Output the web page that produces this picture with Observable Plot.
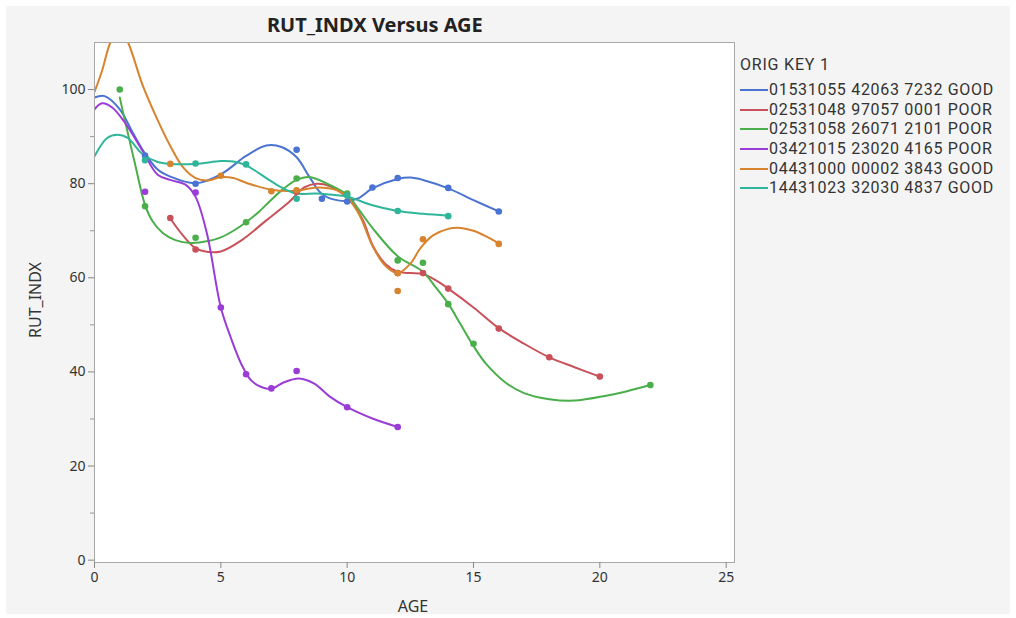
<!DOCTYPE html>
<html>
<head>
<meta charset="utf-8">
<script src="https://cdn.jsdelivr.net/npm/d3@7"></script>
<script src="https://cdn.jsdelivr.net/npm/@observablehq/plot@0.6"></script>
<style>
  html, body { margin: 0; padding: 0; background: #ffffff; }
  #wrap { position: relative; width: 1016px; height: 618px; font-family: "Noto Sans", "Open Sans", sans-serif; color: #333; }
  #bg { position: absolute; left: 6px; top: 6px; width: 1004px; height: 608px; background: #f4f4f4; }
  #chart { position: absolute; left: 0; top: 0; }
  .abs { position: absolute; white-space: nowrap; line-height: 1; }
  #title { left: 267px; top: 15px; font-weight: bold; font-size: 20px; color: #222; }
  #xlab { left: 413px; top: 598px; transform: translateX(-50%); font-size: 16px; color: #333; }
  #ylab { left: 35px; top: 300px; transform: translate(-50%, -50%) rotate(-90deg); font-size: 16px; color: #333; }
  #legend { left: 740px; top: 55px; font-family: Roboto, "Liberation Sans", sans-serif; font-size: 16px; color: #333; }
  #legend .head { display: block; height: 19px; line-height: 19px; margin-bottom: 6px; letter-spacing: 0.8px; }
  #legend .row { display: flex; align-items: center; height: 19.7px; }
  #legend .sw { width: 28px; height: 2px; margin-right: 1px; flex: none; }
  #legend .lt { display: block; height: 19.7px; line-height: 19.7px; letter-spacing: 0.7px; }
</style>
</head>
<body>
<div id="wrap">
  <div id="bg"></div>
  <div id="chart"></div>
  <div id="title" class="abs">RUT_INDX Versus AGE</div>
  <div id="xlab" class="abs">AGE</div>
  <div id="ylab" class="abs">RUT_INDX</div>
  <div id="legend" class="abs"></div>
</div>
<script>
// ---- Data ----
const seriesKeys = [
  "01531055 42063 7232 GOOD",
  "02531048 97057 0001 POOR",
  "02531058 26071 2101 POOR",
  "03421015 23020 4165 POOR",
  "04431000 00002 3843 GOOD",
  "14431023 32030 4837 GOOD"
];
const seriesColors = ["#4a73d2", "#c9525a", "#4aae4a", "#9a3cd6", "#d8832e", "#2fb59a"];
const legendTitle = "ORIG KEY 1";

// observed points [AGE, RUT_INDX]
const pts1 = [[2,86],[4,80],[8,87.2],[9,76.8],[10,76.2],[11,79.2],[12,81.2],[14,79.1],[16,74.1]];
const pts2 = [[3,72.7],[4,66],[8,78.3],[12,61],[13,61],[14,57.7],[16,49.2],[18,43.1],[20,39]];
const pts3 = [[1,100],[2,75.2],[4,68.5],[6,71.8],[8,81.1],[10,77.9],[12,63.7],[13,63.2],[14,54.4],[15,46],[22,37.2]];
const pts4 = [[2,78.3],[4,78.1],[5,53.7],[6,39.5],[7,36.5],[8,40.2],[10,32.5],[12,28.3]];
const pts5 = [[3,84.2],[5,81.7],[7,78.4],[8,78.6],[12,61],[12,57.2],[13,68.2],[16,67.2]];
const pts6 = [[2,85],[4,84.3],[6,84.1],[8,76.8],[10,77.5],[12,74.2],[14,73.1]];

// smoother curves [AGE, RUT_INDX]
const fit1 = [[0,98.3],[0.4,98.6],[1,95.8],[1.5,91],[2,86.4],[2.5,83],[3,81.5],[4,80.1],[5,82],[6,85.9],[6.8,88.1],[7.4,87.8],[8,85.6],[8.5,81.5],[9,77.8],[9.7,76.4],[10.4,76.8],[11,79],[12,81],[12.5,81.3],[13,80.8],[14,79],[15,76.5],[16,74.1]];
const fit2 = [[3,72.6],[3.5,69],[4,66.3],[4.5,65.5],[5,65.6],[5.8,67.9],[6.8,72.2],[7.7,76.1],[8.3,79.2],[8.8,80],[9.3,79.5],[10,77],[10.6,72.5],[11,67],[11.5,63],[12,61.3],[12.5,61],[13,60.8],[13.5,59.5],[14,57.7],[15,53.7],[16,49.3],[17,46],[18,43.1],[19,41],[20,39]];
const fit3 = [[1,98.3],[1.2,93.5],[1.6,84.3],[2,75.5],[2.3,72],[2.7,69.5],[3.2,68],[3.8,67.4],[4.5,67.8],[5,68.6],[5.5,70],[6,71.8],[6.5,74],[7,76.6],[7.5,79],[8,80.8],[8.5,81.4],[9.2,80],[10,77.6],[10.5,74.2],[11,70.6],[12,64.6],[13,61.3],[13.5,58],[14,54.5],[14.5,50],[15,45.5],[15.5,41.7],[16.3,37.6],[17,35.5],[18,34.2],[19,33.9],[20.3,35],[21,35.8],[22,37.2]];
const fit4 = [[0,95.8],[0.3,97.1],[0.7,96.2],[1.2,93],[1.9,87],[2.5,81.9],[3,80.8],[3.6,79.8],[4,77.2],[4.45,69.4],[5,53.7],[5.4,47.2],[5.8,41.8],[6.2,38.2],[6.6,36.8],[7,36.4],[7.5,37.8],[8.1,38.6],[8.7,37.5],[9.3,34.8],[10,32.5],[11,30.1],[12,28.3]];
const fit5 = [[0,99.5],[0.3,104],[0.63,110],[1,113],[1.33,110],[1.9,101],[2.5,93.5],[3,88],[3.5,83.5],[4,81.2],[4.5,80.7],[5,81.4],[5.5,81.2],[6,80.2],[7,78.7],[8,78.5],[8.8,79.2],[9.6,78.6],[10,77.2],[10.5,73.2],[11,66.8],[11.5,62.6],[12,61],[12.5,63],[12.9,66.3],[13.4,69],[14,70.4],[14.5,70.6],[15,70],[15.5,68.8],[16,67.3]];
const fit6 = [[0,85.8],[0.5,89.7],[0.9,90.4],[1.3,89.8],[1.9,86.3],[2.5,84.6],[3,84.2],[4,84.2],[5,84.8],[5.5,84.7],[6,83.9],[6.8,81.2],[7.4,79.2],[8,77.9],[8.8,77.9],[9.7,77.5],[10,77.3],[11,75.4],[12,74.2],[13,73.6],[14,73.2]];

const xTicks = [0, 5, 10, 15, 20, 25];
const yTicks = [0, 20, 40, 60, 80, 100];
const yMinorTicks = [10, 30, 50, 70, 90];

// ---- build tables ----
const ptsAll = [pts1, pts2, pts3, pts4, pts5, pts6];
const fitAll = [fit1, fit2, fit3, fit4, fit5, fit6];
const pointRows = ptsAll.flatMap((arr, i) => arr.map(([a, r]) => ({key: seriesKeys[i], age: a, rut: r})));
const fitRows = fitAll.flatMap((arr, i) => arr.map(([a, r]) => ({key: seriesKeys[i], age: a, rut: r})));

const chart = Plot.plot({
  width: 1016,
  height: 618,
  marginLeft: 94,
  marginRight: 282,
  marginTop: 42,
  marginBottom: 56,
  style: {background: "transparent", fontFamily: "Noto Sans, Open Sans, sans-serif", fontSize: "14px", color: "#333"},
  x: {domain: [0, 25.33], label: null},
  y: {domain: [-0.5, 110], label: null},
  color: {domain: seriesKeys, range: seriesColors},
  marks: [
    Plot.frame({fill: "white", stroke: "none"}),
    Plot.line(fitRows, {x: "age", y: "rut", z: "key", stroke: "key", curve: "catmull-rom", strokeWidth: 2, clip: true}),
    Plot.dot(pointRows, {x: "age", y: "rut", fill: "key", r: 3.3, clip: true}),
    Plot.frame({stroke: "#a8a8a8", strokeWidth: 1}),
    Plot.axisX({ticks: xTicks, tickSize: 6, tickPadding: 4, stroke: "#888", fill: "#333", label: null}),
    Plot.axisY({ticks: yTicks, tickSize: 6, tickPadding: 3, stroke: "#888", fill: "#333", label: null}),
    Plot.axisY({ticks: yMinorTicks, tickSize: 4, text: null, stroke: "#999", label: null})
  ]
});
document.getElementById("chart").appendChild(chart);

// legend
const leg = document.getElementById("legend");
const head = document.createElement("div");
head.className = "head";
head.textContent = legendTitle;
leg.appendChild(head);
seriesKeys.forEach((k, i) => {
  const row = document.createElement("div");
  row.className = "row";
  const sw = document.createElement("span");
  sw.className = "sw";
  sw.style.background = seriesColors[i];
  const t = document.createElement("span");
  t.className = "lt";
  t.textContent = k;
  row.appendChild(sw);
  row.appendChild(t);
  leg.appendChild(row);
});
</script>
</body>
</html>
